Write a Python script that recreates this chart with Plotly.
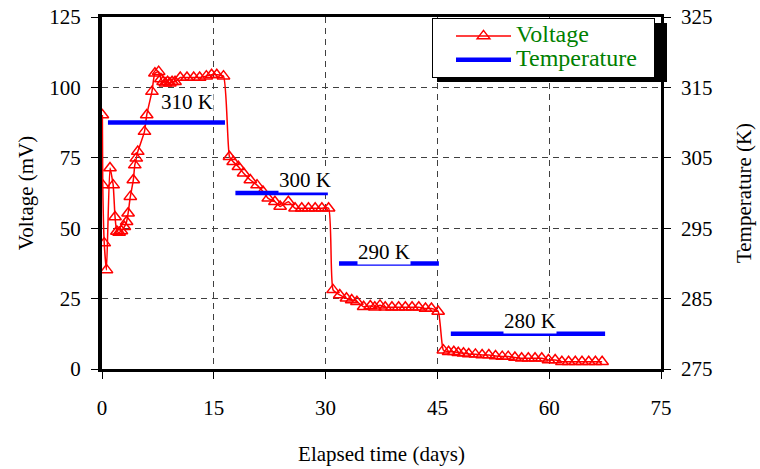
import plotly.graph_objects as go

# ---- Data ----
volt_days = [0.05, 0.1, 0.3, 0.6, 1.07, 1.5, 1.75, 2.0, 2.3, 2.6, 3.0, 3.3, 3.5, 3.8, 4.2, 4.4, 4.6, 4.8,
             5.7, 6.0, 6.7, 7.1, 7.6, 7.9, 8.2, 8.5, 8.8, 9.1, 9.4, 9.8, 10.5, 11.4, 12.3, 13.1, 14.0,
             14.7, 15.4, 16.3,
             17.1, 17.6, 18.3, 19.0, 19.9, 20.8, 21.6, 22.3, 23.2, 23.9, 25.0, 25.9, 26.8, 27.7, 28.6,
             29.5, 30.4,
             31.0, 31.9, 32.8, 33.5, 34.2, 35.1, 36.0, 36.6, 37.3, 38.0, 38.9, 39.8, 40.7, 41.6, 42.5,
             43.4, 44.2, 45.1,
             45.8, 46.5, 47.2, 47.8, 48.5, 49.2, 50.1, 51.0, 51.9, 52.8, 53.7, 54.5, 55.4, 56.3, 57.2,
             58.1, 59.0, 59.9, 60.8, 61.7, 62.6, 63.5, 64.4, 65.3, 66.2, 67.1]
volt_mv = [90.2, 65.3, 44.7, 35.2, 71.4, 65.3, 54.0, 48.8, 48.5, 49.0, 50.5, 52.3, 55.3, 61.2, 67.1, 72.4,
           74.8, 77.2, 84.3, 90.2, 98.5, 105.0, 105.6, 103.0, 102.0, 101.5, 102.0, 101.5, 102.0, 102.0,
           103.5, 103.5, 103.5, 103.5, 104.0, 104.5, 104.5, 104.0,
           75.4, 73.6, 71.8, 69.5, 67.1, 65.3, 63.0, 60.6, 59.4, 57.7, 59.4, 57.1, 57.1, 57.1, 57.1,
           57.1, 57.1,
           28.1, 26.3, 25.1, 24.5, 23.9, 22.1, 22.4, 21.9, 22.6, 21.9, 21.9, 21.9, 21.9, 21.9, 21.9,
           21.5, 21.5, 20.4,
           6.7, 6.1, 6.1, 5.8, 5.6, 5.3, 5.2, 5.0, 5.0, 4.6, 4.4, 4.4, 4.1, 3.8, 3.8,
           3.8, 3.8, 3.2, 3.2, 2.6, 2.6, 2.6, 2.6, 2.6, 2.6, 2.6]

temp_days = [0.8, 16.5, None, 17.9, 30.3, None, 31.8, 45.2, None, 46.8, 67.5]
temp_k = [310, 310, None, 300, 300, None, 290, 290, None, 280, 280]

label_texts = ["310 K", "300 K", "290 K", "280 K"]
label_days = [11.4, 27.2, 37.8, 57.4]
label_mv = [94.8, 67.1, 41.5, 17.0]

x_ticks = [0, 15, 30, 45, 60, 75]
v_ticks = [0, 25, 50, 75, 100, 125]
t_ticks = [275, 285, 295, 305, 315, 325]

FONT = "Liberation Serif"

def big(s, pad=0):
    return '<span style="font-size:24px">' + s + '\u00a0' * pad + '</span>'

fig = go.Figure()
fig.add_trace(go.Scatter(
    x=volt_days, y=volt_mv, name=big("Voltage"), mode="lines+markers",
    line=dict(color="#ff0000", width=1.5, shape="spline", smoothing=0.5),
    marker=dict(symbol="triangle-up-open", size=11, color="#ff0000", line=dict(width=1.5, color="#ff0000")),
    yaxis="y"))
fig.add_trace(go.Scatter(
    x=temp_days, y=temp_k, name=big("Temperature", 2), mode="lines",
    line=dict(color="#0000ff", width=4.5), connectgaps=False, yaxis="y2"))

for t, d, v in zip(label_texts, label_days, label_mv):
    fig.add_annotation(x=d, y=v, xref="x", yref="y", text=t, showarrow=False,
                       font=dict(family=FONT, size=21, color="black"), bgcolor="white", borderpad=0)

W, H = 760, 469
L, R, T, B = 102, 99, 17, 100
pw, ph = W - L - R, H - T - B

def px(xp):
    return (xp - L) / pw

def py(yp):
    return (H - B - yp) / ph

# legend shadow
fig.add_shape(type="rect", xref="paper", yref="paper",
              x0=px(437), x1=px(667), y0=py(82), y1=py(23),
              fillcolor="black", line=dict(width=0), layer="above")

fig.update_layout(
    width=W, height=H,
    margin=dict(l=L, r=R, t=T, b=B, autoexpand=False),
    paper_bgcolor="white", plot_bgcolor="white",
    font=dict(family=FONT, size=21, color="black"),
    showlegend=True,
    legend=dict(x=px(432), y=py(18), xanchor="left", yanchor="top",
                bgcolor="white", bordercolor="black", borderwidth=1,
                font=dict(family=FONT, size=16, color="#008000"),
                itemwidth=55, indentation=18, tracegroupgap=0),
    xaxis=dict(range=[0, 75], tickvals=x_ticks, ticks="outside", ticklen=7, tickcolor="black",
               showline=True, linewidth=3, linecolor="black", mirror=True, automargin=False,
               showgrid=True, gridcolor="#404040", gridwidth=1, griddash="6px,5px",
               zeroline=False, ticklabelstandoff=11,
               title=dict(text="Elapsed time (days)", font=dict(family=FONT, size=21), standoff=28)),
    yaxis=dict(range=[0, 125], tickvals=v_ticks, ticks="outside", ticklen=7, tickcolor="black",
               showline=True, linewidth=4, linecolor="black", automargin=False,
               showgrid=True, gridcolor="#404040", gridwidth=1, griddash="6px,5px",
               zeroline=False, ticklabelstandoff=6,
               title=dict(text="Voltage (mV)", font=dict(family=FONT, size=21), standoff=11)),
    yaxis2=dict(range=[275, 325], tickvals=t_ticks, overlaying="y", side="right",
                ticks="outside", ticklen=7, tickcolor="black", automargin=False,
                showline=True, linewidth=2.5, linecolor="black", showgrid=False, zeroline=False,
                ticklabelstandoff=6,
                title=dict(text="Temperature (K)", font=dict(family=FONT, size=21), standoff=25)),
)

fig.write_html("out.html", config={"displayModeBar": False},
               post_script="document.body.style.margin='0';")
